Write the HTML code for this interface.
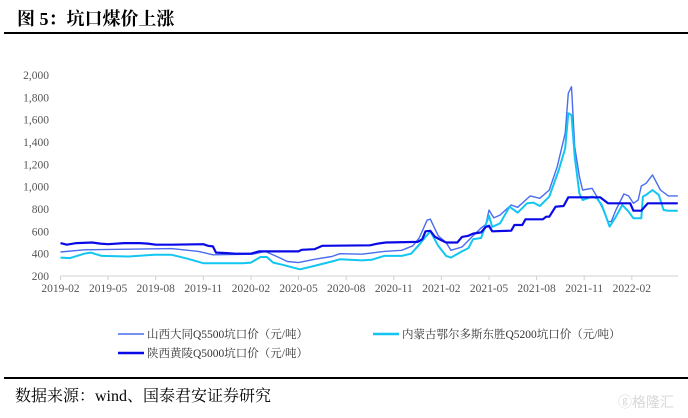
<!DOCTYPE html>
<html><head><meta charset="utf-8"><style>
body{margin:0;background:#fff;width:688px;height:418px;overflow:hidden;position:relative;font-family:"Liberation Serif","Noto Serif CJK SC",serif;}
.abs{position:absolute;white-space:nowrap;}
</style></head><body>
<div class="abs" style="left:17px;top:5px;font-size:18px;font-weight:bold;font-family:'Liberation Serif','Noto Serif CJK SC',serif;">图 5：坑口煤价上涨</div>
<div class="abs" style="left:4px;top:32px;width:684px;height:2px;background:#000;"></div>
<svg id="chart" width="688" height="418" style="position:absolute;left:0;top:0"></svg>
<div class="abs" style="left:4px;top:377px;width:684px;height:1.5px;background:#000;"></div>
<div class="abs" style="left:15px;top:383px;font-size:16px;">数据来源：wind、国泰君安证券研究</div>
<div class="abs" style="left:618px;top:392px;font-size:14px;color:#d8d8d8;font-family:'Liberation Sans','Noto Sans CJK SC',sans-serif;">ⓖ格隆汇</div>
<script>
const monthLabels=["2019-02","2019-05","2019-08","2019-11","2020-02","2020-05","2020-08","2020-11","2021-02","2021-05","2021-08","2021-11","2022-02"];
const yTicks=[200,400,600,800,1000,1200,1400,1600,1800,2000];
const seriesNames=["山西大同Q5500坑口价（元/吨）","内蒙古鄂尔多斯东胜Q5200坑口价（元/吨）","陕西黄陵Q5000坑口价（元/吨）"];
const shanxiM=[0,1.5,4.3,7.0,8.7,9.6,12.1,12.9,13.7,14.3,15.0,16.0,17.1,17.6,19.0,20.4,21.5,22.2,22.6,23.1,23.3,23.8,24.3,24.6,25.3,26.0,26.5,26.8,27.0,27.3,27.7,28.4,28.8,29.6,30.2,30.8,31.3,31.8,32.0,32.2,32.4,32.7,32.9,33.5,33.8,34.2,34.5,34.7,35.0,35.5,35.8,36.1,36.4,36.6,36.9,37.3,37.8,38.3,38.9];
const shanxiV=[415,435,440,445,420,390,395,420,370,330,320,350,375,400,395,420,430,470,540,700,710,560,500,430,460,560,630,660,790,720,746,836,815,917,896,970,1179,1478,1836,1895,1358,1090,970,985,911,791,687,687,791,934,917,851,881,1006,1030,1105,970,917,917];
const neimengM=[0,0.6,1.5,1.9,2.6,4.3,5.9,7.0,8.0,9.0,11.5,12.0,12.6,13.0,13.4,14.0,14.8,15.1,16.0,17.1,17.6,19.0,19.6,20.4,21.5,22.1,22.6,23.0,23.3,23.8,24.3,24.6,25.3,25.7,26.0,26.5,27.0,27.2,27.7,28.3,28.8,29.4,29.8,30.2,30.8,31.4,31.8,32.0,32.2,32.4,32.7,32.9,33.5,33.8,34.1,34.3,34.6,35.0,35.4,35.8,36.1,36.6,36.7,36.9,37.3,37.7,38.0,38.3,38.9];
const neimengV=[365,360,400,410,380,375,390,390,355,315,315,320,370,370,320,300,270,260,290,330,350,340,345,380,380,400,480,550,600,470,380,365,420,450,530,540,740,640,672,821,767,851,857,827,911,1149,1344,1657,1642,1269,940,881,911,896,836,762,642,731,836,776,717,717,911,926,970,926,791,785,785];
const shaanxiM=[0,0.4,1,2,2.5,3,4,5,5.5,6,7,9,9.3,9.6,9.8,10.5,11,12,12.5,15,15.2,16,16.5,19.5,20,20.5,22.5,22.8,23.0,23.3,23.6,24.0,24.3,25,25.3,25.7,26.0,26.5,26.8,27.0,27.2,28.4,28.6,29.1,29.3,30.4,30.6,30.8,31.2,31.7,32.0,34.0,34.5,35.9,36.1,36.6,37.0,38.9];
const shaanxiV=[495,480,495,500,490,485,495,495,490,480,480,485,470,465,410,405,400,400,420,420,435,440,470,475,490,500,505,530,600,605,550,520,500,500,550,560,580,590,640,650,600,606,657,657,708,708,731,731,821,827,905,905,851,851,785,785,851,851];

const NS="http://www.w3.org/2000/svg";
const svg=document.getElementById('chart');
const X0=60.5,MW=15.87,XEND=678,Y0=276,YPER=201/1800;
const xs=m=>X0+m*MW;
const ys=v=>Y0-(v-200)*YPER;
function mk(tag,attrs){const e=document.createElementNS(NS,tag);for(const k in attrs)e.setAttribute(k,attrs[k]);svg.appendChild(e);return e;}
const axis=mk('line',{x1:X0,y1:Y0,x2:XEND,y2:Y0,stroke:'#d0d0d0','stroke-width':1});


monthLabels.forEach((l,i)=>{
  const x=xs(i*3);
  const t=mk('line',{x1:x,y1:Y0,x2:x,y2:Y0+4,stroke:'#d0d0d0'});
  
  
  const tx=mk('text',{x:x,y:Y0+16,'text-anchor':'middle','font-size':'11.5','fill':'#555','font-family':'Liberation Serif, serif'});
  tx.textContent=l;
  
  
});
yTicks.forEach(v=>{
  const tx=mk('text',{x:49,y:ys(v)+4,'text-anchor':'end','font-size':'11.5','fill':'#555','font-family':'Liberation Serif, serif'});
  tx.textContent=v.toLocaleString('en-US');
  
  
});
function line(M,V,color,w,name){
  const d=M.map((m,i)=>(i?'L':'M')+xs(m).toFixed(1)+' '+ys(V[i]).toFixed(1)).join(' ');
  const p=mk('path',{d:d,fill:'none',stroke:color,'stroke-width':w,'stroke-linejoin':'round'});
  
  
}
line(shanxiM,shanxiV,'#4a6cf0',1.4,'series-shanxi-datong');
line(neimengM,neimengV,'#12c6f2',2,'series-neimeng-dongsheng');
line(shaanxiM,shaanxiV,'#0a0ae6',2.2,'series-shaanxi-huangling');
const leg=[[118,334,'#4a6cf0',1.5],[373,334,'#12c6f2',2.5],[118,353,'#0a0ae6',2.5]];
leg.forEach((g,i)=>{
  const l=mk('line',{x1:g[0],y1:g[1],x2:g[0]+26,y2:g[1],stroke:g[2],'stroke-width':g[3]});
  
  
  const t=mk('text',{x:g[0]+29,y:g[1]+4,'font-size':'11.5','fill':'#333','font-family':'Liberation Serif, Noto Serif CJK SC, serif'});
  t.textContent=seriesNames[i];
  
  
});
</script>
</body></html>
